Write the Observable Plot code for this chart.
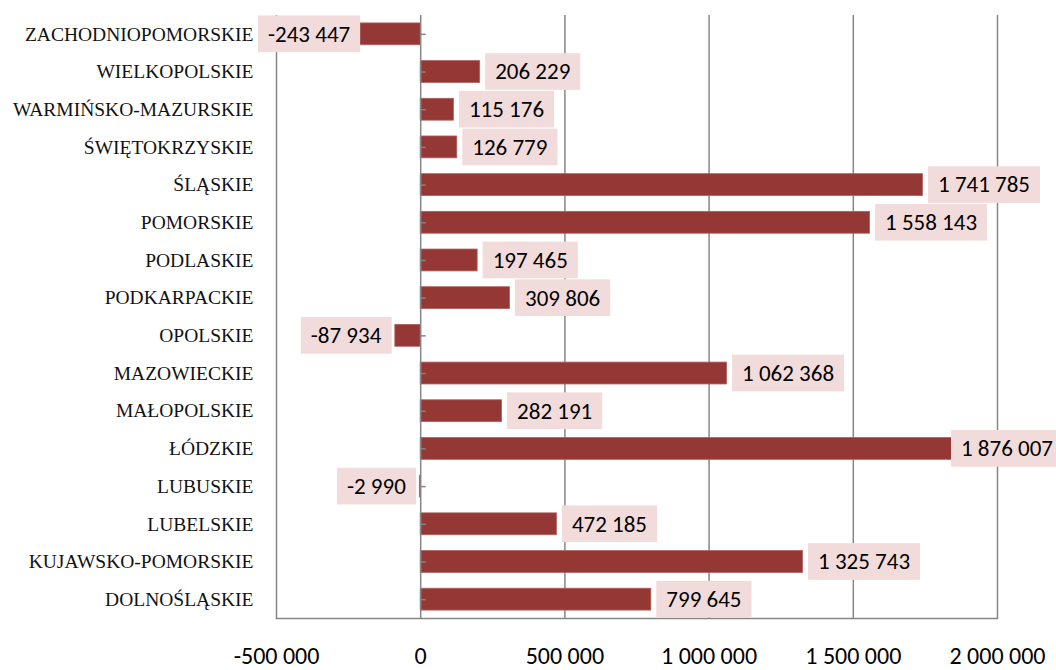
<!DOCTYPE html>
<html><head><meta charset="utf-8">
<script src="https://cdn.jsdelivr.net/npm/d3@7"></script>
<script src="https://cdn.jsdelivr.net/npm/@observablehq/plot@0.6"></script>
<style>body{margin:0;background:#fff;}</style>
</head><body><div id="chart"></div>
<script>
const regions = ["ZACHODNIOPOMORSKIE","WIELKOPOLSKIE","WARMIŃSKO-MAZURSKIE","ŚWIĘTOKRZYSKIE","ŚLĄSKIE","POMORSKIE","PODLASKIE","PODKARPACKIE","OPOLSKIE","MAZOWIECKIE","MAŁOPOLSKIE","ŁÓDZKIE","LUBUSKIE","LUBELSKIE","KUJAWSKO-POMORSKIE","DOLNOŚLĄSKIE"];
const values = [-243447, 206229, 115176, 126779, 1741785, 1558143, 197465, 309806, -87934, 1062368, 282191, 1876007, -2990, 472185, 1325743, 799645];
const xTicks = [-500000, 0, 500000, 1000000, 1500000, 2000000];

const data = regions.map((name, i) => ({name, value: values[i]}));
const pos = data.filter(d => d.value >= 0);
const neg = data.filter(d => d.value < 0);
const fmt = v => d3.format(",")(v).replace(/,/g, " ").replace("\u2212", "-");
const numFont = "Carlito, Calibri, Lato, sans-serif";
const tickSym = {draw(ctx, size) { ctx.moveTo(0, 0); ctx.lineTo(5, 0); }};
const gray = "#868686";

const chart = Plot.plot({
  width: 1056, height: 670,
  marginLeft: 276, marginRight: 59, marginTop: 15, marginBottom: 52,
  style: {background: "#fff", fontFamily: numFont, fontSize: "24px", color: "#000"},
  x: {domain: [-500000, 2000000]},
  y: {domain: regions, paddingInner: 0.42, paddingOuter: 0.21, round: false},
  marks: [
    Plot.ruleX(xTicks.filter(d => d !== 0), {stroke: gray, strokeWidth: 1.5}),
    Plot.frame({anchor: "bottom", stroke: gray, strokeWidth: 1.5}),
    Plot.barX(data, {x: "value", y: "name", fill: "#953735", stroke: "#b0605e", strokeWidth: 0.8}),
    Plot.ruleX([0], {stroke: gray, strokeWidth: 1.5}),
    Plot.dot(regions, {x: () => 0, y: d => d, symbol: tickSym, stroke: gray, strokeWidth: 1.5, r: 3}),
    Plot.text(pos, {x: "value", y: "name", text: d => fmt(d.value), dx: 15, textAnchor: "start", fontSize: 23, fill: "#000", fontFamily: numFont}),
    Plot.text(neg, {x: "value", y: "name", text: d => fmt(d.value), dx: -14, textAnchor: "end", fontSize: 23, fill: "#000", fontFamily: numFont}),
    Plot.axisX({ticks: xTicks, tickFormat: fmt, tickSize: 0, tickPadding: 28, fontSize: 24, label: null, fill: "#000"}),
    Plot.axisY({tickSize: 0, tickPadding: 23, fontSize: 19.5, fontFamily: "'Liberation Serif', 'DejaVu Serif', serif", label: null, fill: "#111"})
  ]
});
document.getElementById("chart").appendChild(chart);

// pink label boxes behind the data labels
(function () {
  const svg = chart.tagName.toLowerCase() === "svg" ? chart : chart.querySelector("svg");
  const xs = chart.scale("x"), ys = chart.scale("y");
  const leftBound = xs.apply(xTicks[0]) - 18;
  const rightBound = 1056 + 7;
  const pad = 10;
  const step = ys.step || (ys.bandwidth / (1 - 0.42));
  const svgRect = svg.getBoundingClientRect();
  const groups = svg.querySelectorAll('g[aria-label="text"]');
  const sets = [pos, neg];
  groups.forEach((g, gi) => {
    const rows = sets[gi];
    const boxes = document.createElementNS("http://www.w3.org/2000/svg", "g");
    g.parentNode.insertBefore(boxes, g);
    g.querySelectorAll("text").forEach((t, i) => {
      let r = t.getBoundingClientRect();
      let left = r.left - svgRect.left - pad, right = r.right - svgRect.left + pad;
      let shift = 0;
      if (left < leftBound) shift = leftBound - left;
      if (right > rightBound) shift = rightBound - right;
      if (shift) {
        const cx = +(t.getAttribute("x") || 0);
        t.setAttribute("x", cx + shift);
        left += shift; right += shift;
      }
      const cy = ys.apply(rows[i].name) + ys.bandwidth / 2;
      const rect = document.createElementNS("http://www.w3.org/2000/svg", "rect");
      rect.setAttribute("x", left);
      rect.setAttribute("y", cy - (step - 1) / 2);
      rect.setAttribute("width", right - left);
      rect.setAttribute("height", step - 1);
      rect.setAttribute("fill", "#f2dcdb");
      boxes.appendChild(rect);
    });
  });
})();
</script>
</body></html>
